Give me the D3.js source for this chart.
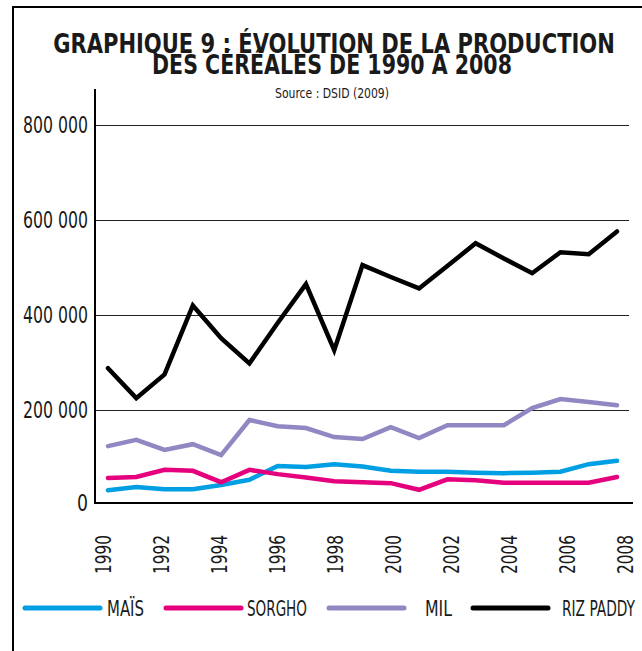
<!DOCTYPE html>
<html>
<head>
<meta charset="utf-8">
<script src="https://cdn.jsdelivr.net/npm/d3@7"></script>
<style>
  html, body { margin: 0; padding: 0; background: #fff; }
  svg { display: block; }
  text { font-family: "DejaVu Sans Condensed", "Liberation Sans Narrow", "Roboto", sans-serif; fill: #1a1a1a; }
</style>
</head>
<body>
<script>
// Données (source : DSID 2009)
const annees = d3.range(1990, 2009);
const mais   = [31000, 38000, 33000, 33000, 42000, 53000, 82000, 80000, 86000, 81000, 72000, 70000, 70000, 68000, 67000, 68000, 70000, 86000, 93000];
const sorgho = [57000, 59000, 74000, 72000, 48000, 74000, 65000, 58000, 50000, 48000, 46000, 32000, 54000, 52000, 47000, 47000, 47000, 47000, 59000];
const mil    = [124000, 137000, 116000, 128000, 105000, 179000, 166000, 162000, 143000, 139000, 164000, 141000, 168000, 168000, 168000, 204000, 223000, 217000, 210000];
const riz    = [288000, 225000, 275000, 420000, 351000, 298000, 383000, 465000, 326000, 505000, 480000, 456000, 503000, 551000, 519000, 488000, 532000, 528000, 576000];

const yTicks = [0, 200000, 400000, 600000, 800000];
const xTicks = d3.range(1990, 2009, 2);

const series = [
  { nom: "MAÏS", valeurs: mais, couleur: "#009fe3", w: 37 },
  { nom: "SORGHO", valeurs: sorgho, couleur: "#e5007d", w: 60 },
  { nom: "MIL", valeurs: mil, couleur: "#8f88c2", w: 27 },
  { nom: "RIZ PADDY", valeurs: riz, couleur: "#000000", w: 73 }
];

const W = 642, H = 651;
const svg = d3.select("body").append("svg")
  .attr("width", W)
  .attr("height", H);

// texte comprimé horizontalement pour imiter la police étroite d'origine
function texteEtroit(g, x, y, largeur, ancre, rot) {
  const t = g.append("text").attr("text-anchor", ancre);
  return function(contenu) {
    t.text(contenu);
    const nat = t.node().getComputedTextLength();
    const k = largeur / nat;
    t.attr("transform", `translate(${x},${y})${rot ? " rotate(" + rot + ")" : ""} scale(${k},1)`);
    return t;
  };
}

// cadre
svg.append("path")
  .attr("d", "M13,651 V7 H642")
  .attr("fill", "none")
  .attr("stroke", "#000")
  .attr("stroke-width", 2);

// titre
const titre = svg.append("g").attr("font-weight", "bold").attr("font-size", 26);
texteEtroit(titre, 334, 53, 562, "middle")("GRAPHIQUE 9 : ÉVOLUTION DE LA PRODUCTION");
texteEtroit(titre, 332, 74, 360, "middle")("DES CÉRÉALES DE 1990 A 2008");
const src = svg.append("g").attr("font-size", 14);
texteEtroit(src, 332, 98, 114, "middle")("Source : DSID (2009)");

// échelles
const x = d3.scaleLinear().domain([1990, 2008]).range([108, 617]);
const xEtiq = d3.scaleLinear().domain([1990, 2008]).range([103, 625]);
const y = d3.scaleLinear().domain([0, 800000]).range([505, 125]);

// grille horizontale
svg.append("g")
  .selectAll("line")
  .data(yTicks.filter(d => d > 0))
  .join("line")
  .attr("x1", 95).attr("x2", 629)
  .attr("y1", d => Math.round(y(d)) + 0.5)
  .attr("y2", d => Math.round(y(d)) + 0.5)
  .attr("stroke", "#222")
  .attr("stroke-width", 1.2);

// étiquettes axe Y
const gy = svg.append("g").attr("font-size", 23);
yTicks.forEach(d => {
  const lib = d === 0 ? "0" : d3.format(",")(d).replace(/,/g, " ");
  texteEtroit(gy, 88, (d === 0 ? 503 : y(d)) + 8, d === 0 ? 11 : 65, "end")(lib);
});

// axes
svg.append("line")
  .attr("x1", 95).attr("x2", 95).attr("y1", 89).attr("y2", 504)
  .attr("stroke", "#000").attr("stroke-width", 2);
svg.append("line")
  .attr("x1", 94).attr("x2", 633).attr("y1", 503).attr("y2", 503)
  .attr("stroke", "#000").attr("stroke-width", 2);

// étiquettes axe X (verticales)
const gx = svg.append("g").attr("font-size", 22);
xTicks.forEach(d => {
  texteEtroit(gx, xEtiq(d) + 8, 535, 39, "end", -90)(String(d));
});

// courbes
const ligne = d3.line()
  .x((d, i) => x(annees[i]))
  .y(d => y(d));

svg.append("g")
  .selectAll("path")
  .data(series)
  .join("path")
  .attr("d", s => ligne(s.valeurs))
  .attr("fill", "none")
  .attr("stroke", s => s.couleur)
  .attr("stroke-width", 4.5)
  .attr("stroke-linejoin", "miter")
  .attr("stroke-linecap", "round");

// légende
const legX = [25, 166, 329, 473];
const legTxt = [107, 247, 425, 562];
const leg = svg.append("g").attr("font-size", 22);
series.forEach((s, i) => {
  leg.append("line")
    .attr("x1", legX[i]).attr("x2", legX[i] + 75)
    .attr("y1", 608).attr("y2", 608)
    .attr("stroke", s.couleur)
    .attr("stroke-width", 5)
    .attr("stroke-linecap", "round");
  texteEtroit(leg, legTxt[i], 616, s.w, "start")(s.nom);
});
</script>
</body>
</html>
